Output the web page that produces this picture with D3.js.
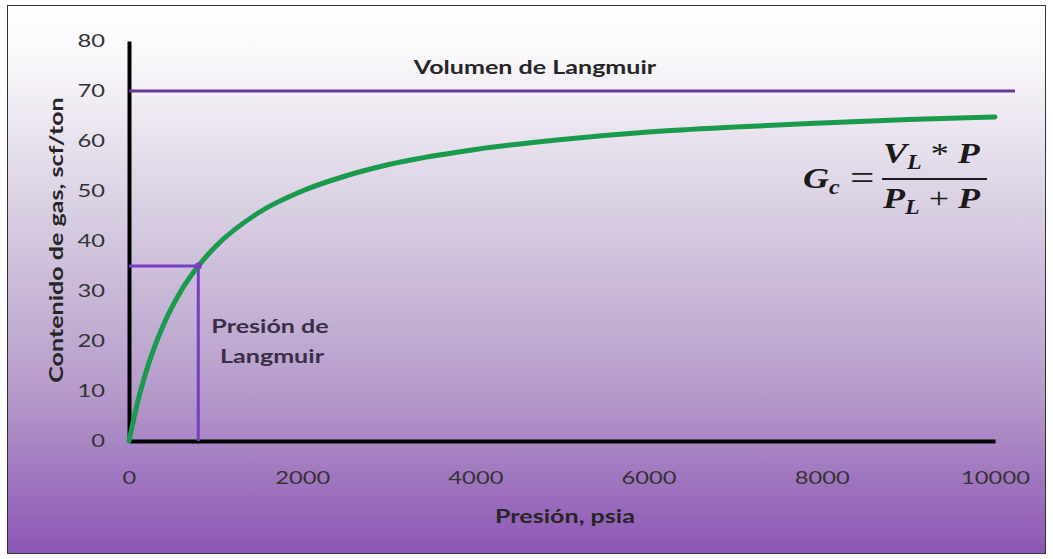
<!DOCTYPE html>
<html>
<head>
<meta charset="utf-8">
<script src="https://cdn.jsdelivr.net/npm/d3@7"></script>
<style>
  body { margin: 0; background: #fff; }
  svg text { font-family: Lato, "Open Sans", sans-serif; }
</style>
</head>
<body>
<div id="chart"></div>
<script>
// presion (psia) and gas content (scf/ton)
var presion = [0, 100, 200, 400, 600, 800, 1000, 1500, 2000, 2500, 3000, 4000, 5000, 6000, 7000, 8000, 9000, 10000];
var contenido = [0, 7.8, 14, 23.3, 30, 35, 38.9, 45.7, 50, 53, 55.3, 58.3, 60.3, 61.8, 62.8, 63.6, 64.3, 64.8];
var volumenLangmuir = 70;
var presionLangmuir = 800;
var xTicks = [0, 2000, 4000, 6000, 8000, 10000];
var yTicks = [0, 10, 20, 30, 40, 50, 60, 70, 80];

var W = 1053, H = 559;
var sx = 1.32; // the picture is stretched sideways, so the text is too
var x = d3.scaleLinear().domain([0, 10000]).range([129, 995]);
var y = d3.scaleLinear().domain([0, 80]).range([441, 41]);

var svg = d3.select("#chart").append("svg")
    .attr("width", W).attr("height", H);

// background gradient
var grad = svg.append("defs").append("linearGradient")
    .attr("id", "bg").attr("x1", 0).attr("y1", 0).attr("x2", 0).attr("y2", 1);
[["0%", "#ffffff"], ["10%", "#f9f7fa"], ["40%", "#d6cbe0"], ["70%", "#b69ccb"], ["100%", "#8c56b5"]]
  .forEach(function(s) { grad.append("stop").attr("offset", s[0]).attr("stop-color", s[1]); });

svg.append("rect")
    .attr("x", 7.5).attr("y", 5.5).attr("width", 1038).attr("height", 548)
    .attr("fill", "url(#bg)").attr("stroke", "#333").attr("stroke-width", 1);

function label(px, py, txt, rot) {
  return svg.append("text")
      .attr("transform", "translate(" + px + "," + py + ")" + (rot ? " rotate(" + rot + ")" : "") + " scale(" + sx + ",1)")
      .attr("text-anchor", "middle")
      .attr("font-size", 19).attr("font-weight", "bold").attr("fill", "#262626")
      .text(txt);
}

// y axis
var yAxis = d3.axisLeft(y).tickValues(yTicks).tickSize(0).tickPadding(0);
var gy = svg.append("g").attr("transform", "translate(" + x(0) + ",0)").call(yAxis);
gy.select(".domain").attr("stroke", "#000").attr("stroke-width", 4);
gy.selectAll("text").attr("font-size", 18).attr("fill", "#333")
    .attr("x", -24 / sx).attr("transform", "scale(" + sx + ",1)");

// x axis
var xAxis = d3.axisBottom(x).tickValues(xTicks).tickSize(0).tickPadding(30).tickFormat(d3.format("d"));
var gx = svg.append("g").attr("transform", "translate(0," + y(0) + ")").call(xAxis);
gx.select(".domain").attr("stroke", "#000").attr("stroke-width", 4);
gx.selectAll("text").attr("font-size", 18).attr("fill", "#333")
    .attr("transform", "scale(" + sx + ",1)");

// axis titles
label(63, y(40.2), "Contenido de gas, scf/ton", -90);
label(565, 523, "Presión, psia");

// Langmuir volume line
svg.append("line")
    .attr("x1", x(0)).attr("x2", 1015)
    .attr("y1", y(volumenLangmuir)).attr("y2", y(volumenLangmuir))
    .attr("stroke", "#6b3a98").attr("stroke-width", 3);
label(535, 74, "Volumen de Langmuir");

// Langmuir pressure lines
var halfV = volumenLangmuir / 2;
svg.append("path")
    .attr("d", "M" + x(0) + "," + y(halfV) + "H" + x(presionLangmuir) + "V" + y(0))
    .attr("fill", "none").attr("stroke", "#7a3cc0").attr("stroke-width", 3);

// curve
var line = d3.line()
    .x(function(d, i) { return x(presion[i]); })
    .y(function(d) { return y(d); })
    .curve(d3.curveMonotoneX);
svg.append("path")
    .datum(contenido)
    .attr("d", line)
    .attr("fill", "none").attr("stroke", "#1a9a4c").attr("stroke-width", 5)
    .attr("stroke-linecap", "round");

svg.append("circle")
    .attr("cx", x(presionLangmuir)).attr("cy", y(halfV)).attr("r", 3.5)
    .attr("fill", "#7a3cc0");

label(270, 333, "Presión de").attr("fill", "#3a2e48");
label(272, 363, "Langmuir").attr("fill", "#3a2e48");

// formula, in a stretched group starting at the G
var fsx = 1.2;
var fm = svg.append("g")
    .attr("transform", "translate(803,0) scale(" + fsx + ",1)")
    .attr("font-weight", "bold").attr("font-style", "italic").attr("fill", "#1a1a1a");
function ftext(px, py, size) {
  return fm.append("text").attr("x", px).attr("y", py).attr("font-size", size)
      .style("font-family", "'Liberation Serif', 'DejaVu Serif', serif");
}
var g1 = ftext(0, 188, 30);
g1.append("tspan").text("G");
g1.append("tspan").attr("font-size", 20).attr("dy", 6).text("c");
ftext((850 - 803) / fsx, 190, 36).attr("font-style", "normal").attr("font-weight", "normal").text("=");
fm.append("line").attr("x1", (882 - 803) / fsx).attr("x2", (987 - 803) / fsx).attr("y1", 179).attr("y2", 179)
    .attr("stroke", "#1a1a1a").attr("stroke-width", 2);
var num = ftext((883 - 803) / fsx, 163, 30);
num.append("tspan").text("V");
num.append("tspan").attr("font-size", 20).attr("dy", 6).text("L");
num.append("tspan").attr("dy", -6).attr("font-style", "normal").attr("font-weight", "normal").text(" * ");
num.append("tspan").text("P");
var den = ftext((883 - 803) / fsx, 208, 30);
den.append("tspan").text("P");
den.append("tspan").attr("font-size", 20).attr("dy", 6).text("L");
den.append("tspan").attr("dy", -6).attr("font-style", "normal").attr("font-weight", "normal").text(" + ");
den.append("tspan").text("P");
</script>
</body>
</html>
